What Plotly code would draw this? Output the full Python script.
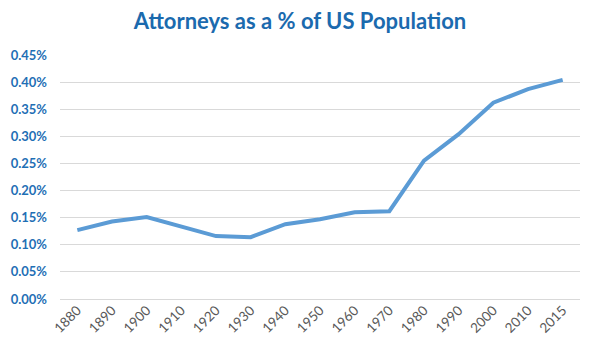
import plotly.graph_objects as go

years = ["1880", "1890", "1900", "1910", "1920", "1930", "1940", "1950",
         "1960", "1970", "1980", "1990", "2000", "2010", "2015"]
pct = [0.127, 0.143, 0.151, 0.133, 0.116, 0.114, 0.138, 0.147,
       0.160, 0.162, 0.255, 0.304, 0.362, 0.387, 0.404]
values = [p / 100 for p in pct]
y_ticks = [0, 0.0005, 0.001, 0.0015, 0.002, 0.0025, 0.003, 0.0035, 0.004, 0.0045]

fig = go.Figure(go.Scatter(
    x=years, y=values, mode="lines",
    line=dict(color="#5B9BD5", width=4),
))

fig.update_layout(
    width=600, height=354,
    margin=dict(l=60, r=20, t=55, b=55),
    paper_bgcolor="white", plot_bgcolor="white",
    showlegend=False,
    title=dict(text="<b>Attorneys as a % of US Population</b>",
               x=0.5, xanchor="center", y=0.94, yanchor="middle",
               font=dict(family="Lato, Open Sans, sans-serif", size=22, color="#1B6AAE")),
    xaxis=dict(type="category", tickangle=-45, showgrid=False, showline=False,
               ticks="", tickfont=dict(family="Lato, Open Sans, sans-serif", size=13.5, color="#595959"),
               range=[-0.5, 14.5]),
    yaxis=dict(range=[0, 0.0045], tickvals=y_ticks, tickformat=".2%",
               showgrid=True, gridcolor="#D9D9D9", gridwidth=1, zeroline=True,
               zerolinecolor="#D9D9D9", zerolinewidth=1, ticks="",
               ticklabelstandoff=12,
               tickfont=dict(family="Lato, Open Sans, sans-serif", size=13, color="#1F6FB5", weight="bold")),
)

fig.write_html("out.html")
